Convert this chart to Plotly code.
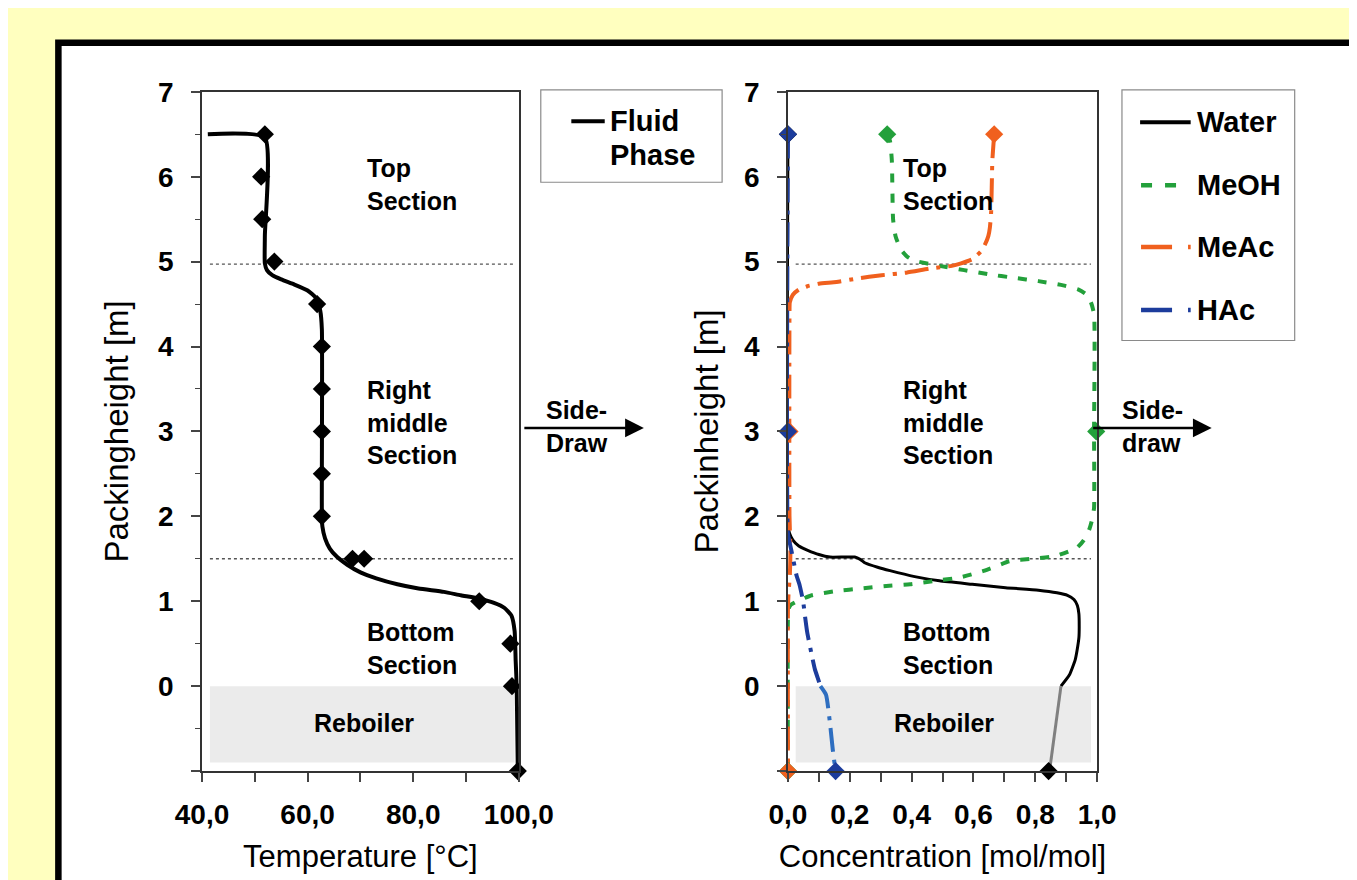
import plotly.graph_objects as go

# ---------------- data: left panel (temperature profile) ----------------
temp_line_T = [41.1, 51.9, 51.9, 51.9, 52.3, 53.3, 55.0, 57.5, 60.0, 61.6, 62.4, 62.7, 62.7, 62.8,
               63.3, 64.2, 65.6, 67.5, 70.0, 73.0, 77.0, 81.0, 85.8, 89.0, 92.5, 95.3,
               97.3, 98.6, 99.2, 99.4, 99.6, 99.8]
temp_line_h = [6.50, 6.46, 5.30, 4.98, 4.90, 4.84, 4.79, 4.73, 4.66, 4.57, 4.42, 4.20, 2.00, 1.88,
               1.74, 1.62, 1.52, 1.43, 1.34, 1.27, 1.20, 1.15, 1.11, 1.07, 1.03, 0.98,
               0.92, 0.83, 0.65, 0.30, 0.00, -1.00]
temp_pts_T = [51.9, 51.2, 51.4, 53.7, 61.8, 62.7, 62.7, 62.7, 62.7, 62.7, 68.5, 70.7, 92.5, 98.4, 98.7, 99.8]
temp_pts_h = [6.5, 6.0, 5.5, 5.0, 4.5, 4.0, 3.5, 3.0, 2.5, 2.0, 1.5, 1.5, 1.0, 0.5, 0.0, -1.0]

# ---------------- data: right panel (concentrations) ----------------
water_x = [0.0, 0.0, 0.005, 0.016, 0.035, 0.064, 0.10, 0.136, 0.216, 0.235, 0.25, 0.29, 0.33, 0.41,
           0.49, 0.596, 0.704, 0.81, 0.87, 0.904, 0.925, 0.936, 0.941, 0.942, 0.941, 0.935, 0.929,
           0.91, 0.883]
water_h = [6.5, 1.9, 1.8, 1.72, 1.65, 1.60, 1.55, 1.52, 1.52, 1.49, 1.45, 1.40, 1.36, 1.29,
           1.24, 1.20, 1.16, 1.13, 1.10, 1.07, 1.02, 0.95, 0.85, 0.70, 0.57, 0.42, 0.31,
           0.13, 0.0]
water_reb_x = [0.883, 0.846]
water_reb_h = [0.0, -1.0]
water_pts_x = [0.0, 0.0, 0.843]
water_pts_h = [6.5, 3.0, -1.0]

meoh_x = [0.321, 0.33, 0.336, 0.34, 0.348, 0.364, 0.385, 0.41, 0.49, 0.57, 0.65, 0.73, 0.81, 0.89,
          0.94, 0.963, 0.98, 0.99, 0.99, 0.99, 0.985, 0.975, 0.957, 0.935, 0.917, 0.864, 0.79,
          0.716, 0.636, 0.556, 0.475, 0.395, 0.318, 0.238, 0.157, 0.077, 0.03, 0.01, 0.003,
          0.0, 0.0]
meoh_h = [6.5, 6.42, 6.19, 5.5, 5.3, 5.15, 5.06, 5.01, 4.95, 4.9, 4.85, 4.81, 4.77, 4.72,
          4.67, 4.62, 4.52, 4.38, 3.0, 2.1, 1.98, 1.85, 1.72, 1.63, 1.60, 1.53, 1.50,
          1.47, 1.36, 1.28, 1.24, 1.20, 1.18, 1.15, 1.12, 1.07, 1.00, 0.96, 0.92,
          0.80, -1.0]
meoh_pts_x = [0.321, 0.997, 0.0]
meoh_pts_h = [6.5, 3.0, -1.0]

meac_x = [0.667, 0.663, 0.661, 0.657, 0.653, 0.648, 0.637, 0.624, 0.597, 0.56, 0.53, 0.463, 0.383,
          0.303, 0.222, 0.157, 0.10, 0.063, 0.035, 0.016, 0.006, 0.005, 0.005, 0.008, 0.006,
          0.002, 0.0, 0.0]
meac_h = [6.5, 6.3, 6.19, 5.57, 5.4, 5.3, 5.2, 5.12, 5.03, 4.98, 4.95, 4.92, 4.87,
          4.84, 4.80, 4.76, 4.74, 4.71, 4.67, 4.61, 4.52, 4.40, 2.00, 1.60, 1.30,
          1.10, 0.90, -1.0]
meac_pts_x = [0.667, 0.005, 0.0]
meac_pts_h = [6.5, 3.0, -1.0]

hac_x = [0.0, 0.0, 0.008, 0.015, 0.028, 0.037, 0.049, 0.056, 0.062, 0.075, 0.087, 0.096, 0.105]
hac_h = [6.5, 1.8, 1.65, 1.53, 1.30, 1.20, 1.00, 0.80, 0.64, 0.40, 0.20, 0.10, 0.0]
hac_reb_x = [0.105, 0.123, 0.136, 0.145, 0.154]
hac_reb_h = [0.0, -0.10, -0.44, -0.75, -1.0]
hac_pts_x = [0.0, 0.0, 0.154]
hac_pts_h = [6.5, 3.0, -1.0]

# ---------------- ticks / labels ----------------
h_tick_vals = [-1, 0, 1, 2, 3, 4, 5, 6, 7]
h_tick_text = ["", "0", "1", "2", "3", "4", "5", "6", "7"]
temp_tick_vals = [40, 50, 60, 70, 80, 90, 100]
temp_tick_text = ["40,0", "", "60,0", "", "80,0", "", "100,0"]
conc_tick_vals = [0.0, 0.1, 0.2, 0.3, 0.4, 0.5, 0.6, 0.7, 0.8, 0.9, 1.0]
conc_tick_text = ["0,0", "", "0,2", "", "0,4", "", "0,6", "", "0,8", "", "1,0"]
legend_right_names = ["Water", "MeOH", "MeAc", "HAc"]
legend_left_lines = ["Fluid", "Phase"]

# ---------------- styling ----------------
FONT = "Liberation Sans, Arial, sans-serif"
W, H = 1357, 880
GREEN = "#23A03B"
ORANGE = "#F0601E"
NAVY = "#1C3C9C"
DASHDOT = "24px,8px,4px,8px"


def px(xp):
    return xp / W


def py(yp):
    return 1 - yp / H


fig = go.Figure()

# left panel
fig.add_trace(go.Scatter(x=temp_line_T, y=temp_line_h, mode="lines", name="Fluid Phase",
                         line=dict(color="black", width=4, shape="spline", smoothing=0.5),
                         xaxis="x", yaxis="y"))
fig.add_trace(go.Scatter(x=temp_pts_T, y=temp_pts_h, mode="markers", name="Fluid Phase (points)",
                         marker=dict(symbol="diamond", size=14, color="black"),
                         cliponaxis=False, xaxis="x", yaxis="y"))

# right panel
fig.add_trace(go.Scatter(x=water_x, y=water_h, mode="lines", name="Water",
                         line=dict(color="black", width=3, shape="spline", smoothing=0.5),
                         xaxis="x2", yaxis="y2"))
fig.add_trace(go.Scatter(x=water_reb_x, y=water_reb_h, mode="lines", name="Water (reboiler)",
                         line=dict(color="#808080", width=3), xaxis="x2", yaxis="y2"))
fig.add_trace(go.Scatter(x=meoh_x, y=meoh_h, mode="lines", name="MeOH",
                         line=dict(color=GREEN, width=4, dash="9px,11px", shape="spline", smoothing=0.5),
                         xaxis="x2", yaxis="y2"))
fig.add_trace(go.Scatter(x=meac_x, y=meac_h, mode="lines", name="MeAc",
                         line=dict(color=ORANGE, width=4, dash=DASHDOT, shape="spline", smoothing=0.5),
                         xaxis="x2", yaxis="y2"))
fig.add_trace(go.Scatter(x=hac_x, y=hac_h, mode="lines", name="HAc",
                         line=dict(color=NAVY, width=4, dash=DASHDOT, shape="spline", smoothing=0.5),
                         xaxis="x2", yaxis="y2"))
fig.add_trace(go.Scatter(x=hac_reb_x, y=hac_reb_h, mode="lines", name="HAc (reboiler)",
                         line=dict(color="#2E6EC0", width=4, dash=DASHDOT, shape="spline", smoothing=0.5),
                         xaxis="x2", yaxis="y2"))
for nm, xs, hs, col in [("Water", water_pts_x, water_pts_h, "black"),
                        ("MeOH", meoh_pts_x, meoh_pts_h, GREEN),
                        ("MeAc", meac_pts_x, meac_pts_h, ORANGE),
                        ("HAc", hac_pts_x, hac_pts_h, NAVY)]:
    fig.add_trace(go.Scatter(x=xs, y=hs, mode="markers", name=nm + " (points)",
                             marker=dict(symbol="diamond", size=14, color=col),
                             cliponaxis=False, xaxis="x2", yaxis="y2"))

tickfont = dict(family=FONT, size=28, color="black", weight="bold")
xtitlefont = dict(family=FONT, size=31, color="black")
ytitlefont = dict(family=FONT, size=33, color="black")

common_axis = dict(showline=True, linecolor="#333333", linewidth=1.5, mirror=True,
                   showgrid=False, zeroline=False, ticks="outside", ticklen=9,
                   tickwidth=1.5, tickcolor="#444444", tickfont=tickfont)

y_dom = [py(761), py(70)]
minor_y = dict(tickmode="linear", tick0=0, dtick=0.5, ticks="outside", ticklen=5,
               tickcolor="#444444", tickwidth=1.2)

fig.update_layout(
    width=W, height=H, autosize=False, showlegend=False,
    margin=dict(l=0, r=0, t=0, b=0),
    paper_bgcolor="#FFFFBF", plot_bgcolor="white",
    font=dict(family=FONT, color="black"),
    xaxis=dict(domain=[px(175), px(507)], range=[40, 100], anchor="y",
               tickmode="array", tickvals=temp_tick_vals, ticktext=temp_tick_text,
               ticklabelstandoff=9,
               title=dict(text="Temperature [°C]", font=xtitlefont, standoff=16), **common_axis),
    yaxis=dict(domain=y_dom, range=[-1, 7], anchor="x",
               tickmode="array", tickvals=h_tick_vals, ticktext=h_tick_text,
               ticklabelstandoff=12, minor=minor_y,
               title=dict(text="Packingheight [m]", font=ytitlefont, standoff=20), **common_axis),
    xaxis2=dict(domain=[px(789), px(1113)], range=[0, 1], anchor="y2",
                tickmode="array", tickvals=conc_tick_vals, ticktext=conc_tick_text,
                ticklabelstandoff=9,
                title=dict(text="Concentration [mol/mol]", font=xtitlefont, standoff=16), **common_axis),
    yaxis2=dict(domain=y_dom, range=[-1, 7], anchor="x2",
                tickmode="array", tickvals=h_tick_vals, ticktext=h_tick_text,
                ticklabelstandoff=12, minor=minor_y,
                title=dict(text="Packinheight [m]", font=ytitlefont, standoff=15), **common_axis),
)

shapes = []
# white inner panel with thick black border (right/bottom edges lie outside the picture)
shapes.append(dict(type="rect", xref="paper", yref="paper", x0=px(24.5), x1=1.6, y0=-0.6, y1=py(20),
                   fillcolor="white", line=dict(color="black", width=6.5), layer="below"))
# legend boxes
shapes.append(dict(type="rect", xref="paper", yref="paper", x0=px(530), x1=px(720), y0=py(162), y1=py(68),
                   fillcolor="white", line=dict(color="#8a8a8a", width=1.2), layer="below"))
shapes.append(dict(type="rect", xref="paper", yref="paper", x0=px(1139), x1=px(1320), y0=py(323), y1=py(68),
                   fillcolor="white", line=dict(color="#8a8a8a", width=1.2), layer="below"))
# reboiler areas
shapes.append(dict(type="rect", xref="x", yref="y", x0=41.5, x1=99.2, y0=-0.9, y1=0.0,
                   fillcolor="#EBEBEB", line=dict(width=0), layer="below"))
shapes.append(dict(type="rect", xref="x2", yref="y2", x0=0.025, x1=0.98, y0=-0.9, y1=0.0,
                   fillcolor="#EBEBEB", line=dict(width=0), layer="below"))
# section boundary dotted lines
for xr, yr, a, b in [("x", "y", 41.5, 99.3), ("x2", "y2", 0.025, 0.98)]:
    for hv in [4.97, 1.5]:
        shapes.append(dict(type="line", xref=xr, yref=yr, x0=a, x1=b, y0=hv, y1=hv,
                           line=dict(color="#555555", width=1.3, dash="dot"), layer="below"))
# legend sample lines
shapes.append(dict(type="line", xref="paper", yref="paper", x0=px(562), x1=px(597), y0=py(100), y1=py(100),
                   line=dict(color="black", width=4)))
legend_right_y = [101, 165, 228, 292]
legend_right_styles = [
    (1158, 1211, dict(color="black", width=4)),
    (1159, 1196, dict(color=GREEN, width=4.5, dash="11px,13px")),
    (1159, 1211, dict(color=ORANGE, width=4.5, dash="31px,16px,3px,20px")),
    (1159, 1211, dict(color=NAVY, width=4.5, dash="31px,16px,3px,20px")),
]
for yy, (xa, xb, ln) in zip(legend_right_y, legend_right_styles):
    shapes.append(dict(type="line", xref="paper", yref="paper", x0=px(xa), x1=px(xb),
                       y0=py(yy), y1=py(yy), line=ln))
fig.update_layout(shapes=shapes)

annfont = dict(family=FONT, size=25, color="black", weight="bold")
legfont = dict(family=FONT, size=29, color="black", weight="bold")
anns = []
for xr, yr, xl, xc in [("x", "y", 70.9, 70.6), ("x2", "y2", 0.367, 0.505)]:
    anns.append(dict(xref=xr, yref=yr, x=xl, y=5.91, text="Top<br>Section", showarrow=False,
                     xanchor="left", yanchor="middle", align="left", font=annfont))
    anns.append(dict(xref=xr, yref=yr, x=xl, y=3.11, text="Right<br>middle<br>Section", showarrow=False,
                     xanchor="left", yanchor="middle", align="left", font=annfont))
    anns.append(dict(xref=xr, yref=yr, x=xl, y=0.44, text="Bottom<br>Section", showarrow=False,
                     xanchor="left", yanchor="middle", align="left", font=annfont))
    anns.append(dict(xref=xr, yref=yr, x=xc, y=-0.44, text="Reboiler", showarrow=False,
                     xanchor="center", yanchor="middle", font=annfont))
# side-draw arrows and labels
for x_tail, x_head, lbl_x, lbl in [(517, 638, 533, "Side-<br>Draw"), (1113, 1233, 1137, "Side-<br>draw")]:
    anns.append(dict(xref="paper", yref="paper", x=px(x_head), y=py(412), ax=x_tail - x_head, ay=0,
                     axref="pixel", ayref="pixel", text="", showarrow=True, arrowhead=2,
                     arrowsize=1.5, arrowwidth=2.5, arrowcolor="black"))
    anns.append(dict(xref="paper", yref="paper", x=px(lbl_x), y=py(411), text=lbl, showarrow=False,
                     xanchor="left", yanchor="middle", align="left", font=annfont))
# legend texts
for txt, yy in zip(legend_left_lines, [100, 134]):
    anns.append(dict(xref="paper", yref="paper", x=px(600), y=py(yy), text=txt, showarrow=False,
                     xanchor="left", yanchor="middle", font=legfont))
for txt, yy in zip(legend_right_names, legend_right_y):
    anns.append(dict(xref="paper", yref="paper", x=px(1216), y=py(yy), text=txt, showarrow=False,
                     xanchor="left", yanchor="middle", font=legfont))
fig.update_layout(annotations=anns)

fig.write_html("out.html")
